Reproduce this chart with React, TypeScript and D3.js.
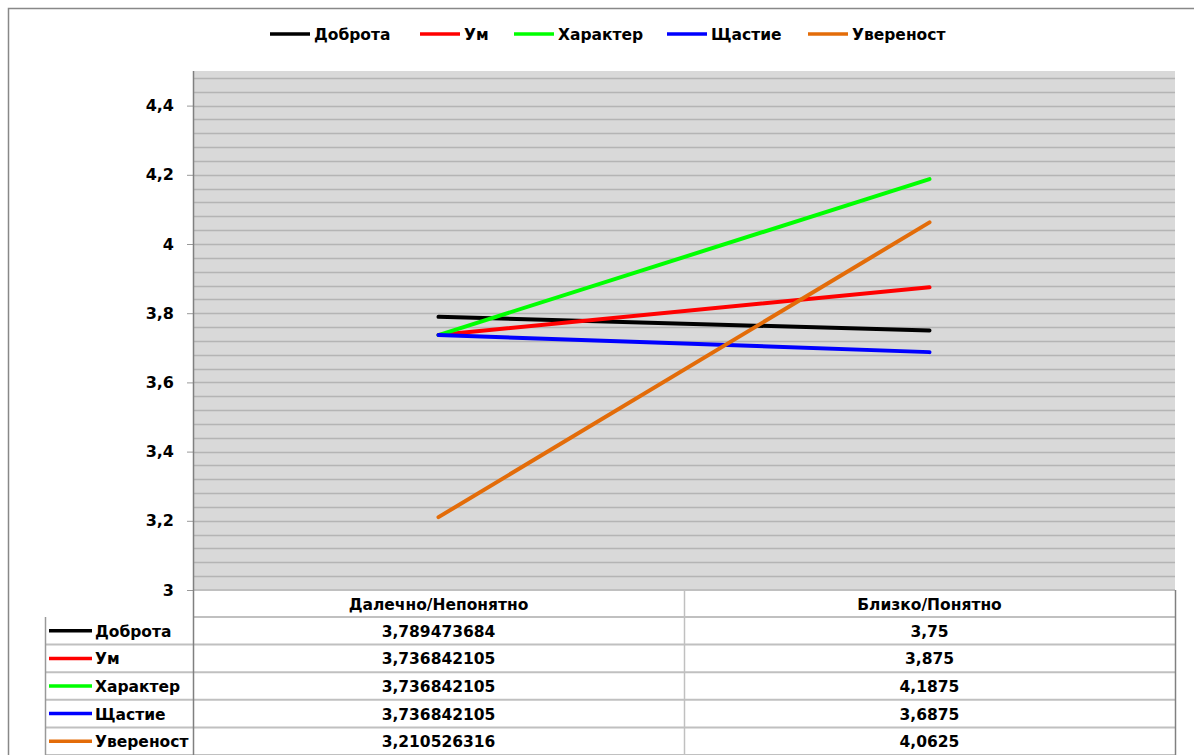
import { useEffect, useRef } from 'react';
import * as d3 from 'd3';

const categories = ['Далечно/Непонятно', 'Близко/Понятно'];
const seriesNames = ['Доброта', 'Ум', 'Характер', 'Щастие', 'Увереност'];
const seriesColors = ['#000000', '#ff0000', '#00ff00', '#0000ff', '#e36c09'];
const dobrota = [3.789473684, 3.75];
const um = [3.736842105, 3.875];
const harakter = [3.736842105, 4.1875];
const shtastie = [3.736842105, 3.6875];
const uverenost = [3.210526316, 4.0625];
const tableLabels = [
  ['3,789473684', '3,75'],
  ['3,736842105', '3,875'],
  ['3,736842105', '4,1875'],
  ['3,736842105', '3,6875'],
  ['3,210526316', '4,0625'],
];
const yTicks = [3, 3.2, 3.4, 3.6, 3.8, 4, 4.2, 4.4];

const FONT = '"DejaVu Sans", Verdana, sans-serif';
const FS = 15.5;

export default function App() {
  const svgRef = useRef<SVGSVGElement>(null);

  useEffect(() => {
    const svg = d3.select(svgRef.current);
    svg.selectAll('*').remove();

    const values = [dobrota, um, harakter, shtastie, uverenost];
    const left = 193;
    const right = 1175;
    const top = 71;
    const bottom = 590;

    const x = d3.scaleBand().domain(categories).range([left, right]);
    const y = d3.scaleLinear().domain([3, 4.5]).range([bottom, top]);

    // frame
    svg
      .append('rect')
      .attr('x', 8.5)
      .attr('y', 8.5)
      .attr('width', 1200)
      .attr('height', 760)
      .attr('fill', '#fff')
      .attr('stroke', '#888')
      .attr('stroke-width', 1.5);

    // plot area
    svg
      .append('rect')
      .attr('x', left)
      .attr('y', top)
      .attr('width', right - left)
      .attr('height', bottom - top)
      .attr('fill', '#d9d9d9');

    // grid (minor every 0.04)
    const grid = d3.range(3.04, 4.5, 0.04);
    svg
      .append('g')
      .selectAll('line')
      .data(grid)
      .join('line')
      .attr('x1', left)
      .attr('x2', right)
      .attr('y1', (d) => Math.round(y(d)) + 0.5)
      .attr('y2', (d) => Math.round(y(d)) + 0.5)
      .attr('stroke', '#b4b4b4')
      .attr('stroke-width', 1.5);

    // y axis
    const yAxis = d3
      .axisLeft(y)
      .tickValues(yTicks)
      .tickSize(6)
      .tickPadding(13)
      .tickFormat((d) => d3.format('~g')(d as number).replace('.', ','));
    const ay = svg.append('g').attr('transform', `translate(${left},0)`).call(yAxis);
    ay.select('.domain').remove();
    ay.selectAll('line').attr('stroke', '#999');
    ay.selectAll('text')
      .attr('font-family', FONT)
      .attr('font-weight', 'bold')
      .attr('font-size', 16)
      .attr('fill', '#000');

    // table
    const rowH = (755 - 617) / 5;
    const tableTop = 617;
    const tbl = svg.append('g');
    const hLines = [bottom, ...d3.range(6).map((i) => tableTop + i * rowH)];
    tbl
      .selectAll('line.h')
      .data(hLines)
      .join('line')
      .attr('class', 'h')
      .attr('x1', (d, i) => (i < 2 ? left : 45))
      .attr('x2', right)
      .attr('y1', (d) => d)
      .attr('y2', (d) => d)
      .attr('stroke', '#c0c0c0')
      .attr('stroke-width', 2);
    tbl
      .append('line')
      .attr('x1', 684.5)
      .attr('x2', 684.5)
      .attr('y1', bottom)
      .attr('y2', 755)
      .attr('stroke', '#c0c0c0')
      .attr('stroke-width', 1.5);
    tbl
      .append('line')
      .attr('x1', 45.5)
      .attr('x2', 45.5)
      .attr('y1', tableTop)
      .attr('y2', 755)
      .attr('stroke', '#999')
      .attr('stroke-width', 1.5);
    tbl
      .append('line')
      .attr('x1', right + 0.5)
      .attr('x2', right + 0.5)
      .attr('y1', bottom)
      .attr('y2', 755)
      .attr('stroke', '#808080')
      .attr('stroke-width', 1.5);
    tbl
      .append('line')
      .attr('x1', left + 0.5)
      .attr('x2', left + 0.5)
      .attr('y1', top)
      .attr('y2', 755)
      .attr('stroke', '#808080')
      .attr('stroke-width', 1.5);

    // column headers
    tbl
      .selectAll('text.cat')
      .data(categories)
      .join('text')
      .attr('class', 'cat')
      .attr('x', (d) => (x(d) as number) + x.bandwidth() / 2)
      .attr('y', (bottom + tableTop) / 2 + 6)
      .attr('text-anchor', 'middle')
      .attr('font-family', FONT)
      .attr('font-weight', 'bold')
      .attr('font-size', FS)
      .text((d) => d);

    // rows
    seriesNames.forEach((name, i) => {
      const cy = tableTop + i * rowH + rowH / 2;
      tbl
        .append('line')
        .attr('x1', 49)
        .attr('x2', 92)
        .attr('y1', cy)
        .attr('y2', cy)
        .attr('stroke', seriesColors[i])
        .attr('stroke-width', 3.5);
      tbl
        .append('text')
        .attr('x', 95)
        .attr('y', cy + 6)
        .attr('font-family', FONT)
        .attr('font-weight', 'bold')
        .attr('font-size', FS)
        .text(name);
      categories.forEach((c, j) => {
        tbl
          .append('text')
          .attr('x', (x(c) as number) + x.bandwidth() / 2)
          .attr('y', cy + 6)
          .attr('text-anchor', 'middle')
          .attr('font-family', FONT)
          .attr('font-weight', 'bold')
          .attr('font-size', FS)
          .text(tableLabels[i][j]);
      });
    });

    // lines
    const lineGen = d3
      .line<number>()
      .x((d, i) => (x(categories[i]) as number) + x.bandwidth() / 2)
      .y((d) => y(d));
    svg
      .append('g')
      .selectAll('path')
      .data(values)
      .join('path')
      .attr('d', (d) => lineGen(d))
      .attr('fill', 'none')
      .attr('stroke', (d, i) => seriesColors[i])
      .attr('stroke-width', 4)
      .attr('stroke-linecap', 'round');

    // legend
    const legendX = [270, 420, 514, 667, 808];
    const lg = svg
      .append('g')
      .selectAll('g')
      .data(seriesNames)
      .join('g')
      .attr('transform', (d, i) => `translate(${legendX[i]},34)`);
    lg.append('line')
      .attr('x1', 0)
      .attr('x2', 40)
      .attr('stroke', (d, i) => seriesColors[i])
      .attr('stroke-width', 3.5);
    lg.append('text')
      .attr('x', 44)
      .attr('y', 6)
      .attr('font-family', FONT)
      .attr('font-weight', 'bold')
      .attr('font-size', FS)
      .text((d) => d);
  }, []);

  return (
    <svg
      ref={svgRef}
      width={1194}
      height={755}
      style={{ position: 'absolute', left: 0, top: 0, display: 'block', background: '#fff' }}
    />
  );
}
